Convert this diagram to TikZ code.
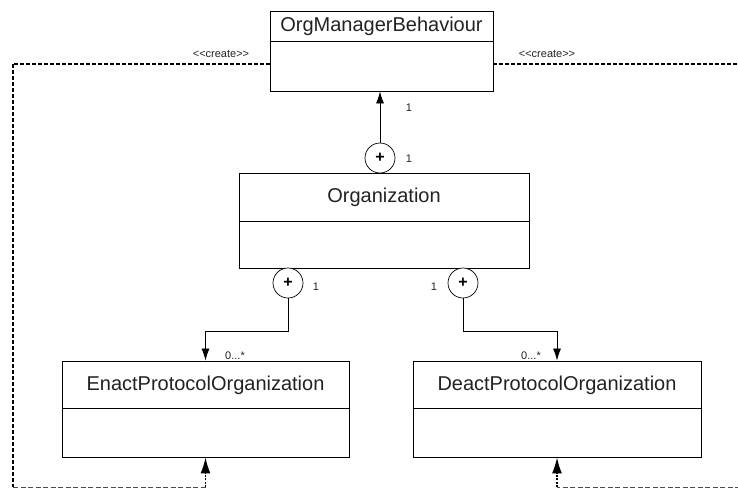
\documentclass[tikz,border=0pt]{standalone}
\usepackage{fontspec}
\setmainfont{Liberation Sans}
\usetikzlibrary{arrows.meta}
\definecolor{txt}{HTML}{222222}
\tikzset{
  classbox/.style={draw=black, line width=0.9pt, rectangle, inner sep=0pt},
  classtitle/.style={text=txt, font=\fontsize{20}{24}\selectfont, inner sep=0pt},
  small/.style={text=txt, font=\fontsize{11}{13}\selectfont, inner sep=0pt},
  comp/.style={draw=black, line width=0.7pt, circle, minimum size=30pt, inner sep=0pt, fill=white, font=\bfseries\fontsize{16}{16}\selectfont},
  assoc/.style={draw=black, line width=0.8pt, -{Latex[length=12pt,width=8pt]}},
  createthick/.style={draw=black, line width=2pt, dash pattern=on 4pt off 2pt},
  createside/.style={draw=black, line width=1.2pt, dash pattern=on 4pt off 2pt},
  createthin/.style={draw=black!70, line width=0.7pt, dash pattern=on 5pt off 2.5pt},
  createtip/.style={draw=black, line width=1.4pt, dash pattern=on 2pt off 1.5pt, -{Latex[length=16pt,width=10pt]}}
}
\begin{document}
\begin{tikzpicture}[x=1pt,y=-1pt]
\useasboundingbox (0,0) rectangle (738,488);
% class boxes
\node[classbox, minimum width=223pt, minimum height=80pt] (omb) at (381.5,51) {};
\draw[line width=0.9pt] ([yshift=-31pt]omb.north west) -- ([yshift=-31pt]omb.north east);
\node[classtitle] (ombt) at ([yshift=-16pt]omb.north) {OrgManagerBehaviour};

\node[classbox, minimum width=290pt, minimum height=95pt] (org) at (384,220.5) {};
\draw[line width=0.9pt] ([yshift=-49pt]org.north west) -- ([yshift=-49pt]org.north east);
\node[classtitle] (orgt) at ([yshift=-25pt]org.north) {Organization};

\node[classbox, minimum width=287pt, minimum height=96pt] (enact) at (205.5,409) {};
\draw[line width=0.9pt] ([yshift=-48pt]enact.north west) -- ([yshift=-48pt]enact.north east);
\node[classtitle] (enactt) at ([yshift=-25pt]enact.north) {EnactProtocolOrganization};

\node[classbox, minimum width=288pt, minimum height=96pt] (deact) at (557,409) {};
\draw[line width=0.9pt] ([yshift=-48pt]deact.north west) -- ([yshift=-48pt]deact.north east);
\node[classtitle] (deactt) at ([yshift=-25pt]deact.north) {DeactProtocolOrganization};

% composition circles
\node[comp] (c1) at (380,158) {+};
\node[comp] (c2) at (288,283) {+};
\node[comp] (c3) at (463,283) {+};

% associations
\draw[assoc] (c1.north) -- (c1.north |- omb.south);
\draw[assoc] (c2.south) -- ++(0,33) -| (enact.north);
\draw[assoc] (c3.south) -- ++(0,33) -| (deact.north);

% multiplicities
\node[small] (m1) at (409,108) {1};
\node[small] (m2) at (409,159) {1};
\node[small] (m3) at (316,287) {1};
\node[small] (m4) at (434,287) {1};
\node[small] (m5) at (235,356) {0...*};
\node[small] (m6) at (531,356) {0...*};

% create dependencies
\node[small] (cr1) at (221,54) {{<}{<}create{>}{>}};
\node[small] (cr2) at (547,54) {{<}{<}create{>}{>}};
\coordinate (tl) at (13,64);
\coordinate (bl) at (13,487);
\coordinate (be) at (205.5,487);
\coordinate (tr) at (740,64);
\coordinate (br) at (740,487);
\coordinate (bd) at (557,487);
\draw[createthick] ([yshift=-13pt]omb.west) -- (tl);
\draw[createside] (tl) -- (bl);
\draw[createthin] (bl) -- (be);
\draw[createtip] (be) -- (enact.south);
\draw[createthick] ([yshift=-13pt]omb.east) -- (tr);
\draw[createthin] (br) -- (bd);
\draw[createtip] (bd) -- (deact.south);
\end{tikzpicture}
\end{document}
